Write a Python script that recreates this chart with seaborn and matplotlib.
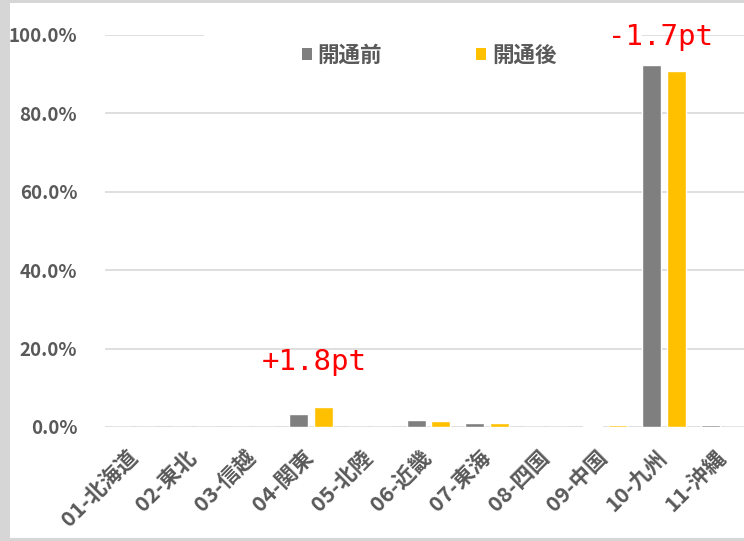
import matplotlib
matplotlib.use("Agg")
import matplotlib.pyplot as plt
from matplotlib.patches import Patch, Rectangle
from matplotlib.ticker import PercentFormatter
from matplotlib.transforms import ScaledTranslation
import pandas as pd
import seaborn as sns

# data (share, %)
regions = ["01-北海道", "02-東北", "03-信越", "04-関東", "05-北陸", "06-近畿",
           "07-東海", "08-四国", "09-中国", "10-九州", "11-沖縄"]
before = [0.0, 0.0, 0.0, 3.4, 0.0, 1.9, 0.95, 0.0, 0.35, 92.4, 0.4]
after = [0.0, 0.0, 0.0, 5.2, 0.0, 1.5, 0.9, 0.0, 0.6, 90.7, 0.0]
series_names = ["開通前", "開通後"]
colors = ["#7F7F7F", "#FFC000"]
notes = [("+1.8pt", 3.05, 16.6), ("-1.7pt", 8.94, 99.5)]

df = pd.DataFrame({
    "region": regions * 2,
    "series": [series_names[0]] * len(regions) + [series_names[1]] * len(regions),
    "share": [v / 100 for v in before + after],
})

sns.set_style("white")
plt.rcParams["font.family"] = ["Noto Sans CJK JP", "DejaVu Sans"]
text_gray = "#595959"

fig = plt.figure(figsize=(7.44, 5.41), dpi=100)
ax = fig.add_axes([105 / 744, 114 / 541, 647 / 744, 392 / 541])

sns.barplot(data=df, x="region", y="share", hue="series", order=regions,
            hue_order=series_names, palette=colors, saturation=1,
            width=0.85, gap=0.24, legend=False, ax=ax, zorder=2)

ax.set_ylim(0, 1.0)
ax.set_xlim(-0.5, len(regions) - 0.5)
ax.set_yticks([0, 0.2, 0.4, 0.6, 0.8, 1.0])
ax.yaxis.set_major_formatter(PercentFormatter(1.0, decimals=1))
ax.yaxis.grid(True, color="#D9D9D9", linewidth=1.2)
ax.set_axisbelow(True)
for s in ax.spines.values():
    s.set_visible(False)
ax.set_xlabel("")
ax.set_ylabel("")
ax.tick_params(axis="y", length=0, pad=20, labelsize=13.5, labelcolor=text_gray)
ax.tick_params(axis="x", length=0, pad=14, labelsize=15.5, labelcolor=text_gray)
for lab in ax.get_yticklabels():
    lab.set_fontweight("bold")
shift = ScaledTranslation(-8 / 100, 0, fig.dpi_scale_trans)
for lab in ax.get_xticklabels():
    lab.set_rotation(45)
    lab.set_ha("right")
    lab.set_va("top")
    lab.set_rotation_mode("anchor")
    lab.set_fontweight("bold")
    lab.set_transform(lab.get_transform() + shift)

# white box behind legend hides part of the 100% gridline
ax.add_patch(Rectangle((1.18, 0.97), 7.45, 0.06, facecolor="white",
                       edgecolor="none", clip_on=False, zorder=1))

handles = [Patch(facecolor=c, edgecolor="none") for c in colors]
leg = ax.legend(handles, series_names, loc="center",
                bbox_to_anchor=(429 / 744, 1 - 55 / 541),
                bbox_transform=fig.transFigure, ncol=2, frameon=False,
                handlelength=0.47, handleheight=0.47, handletextpad=0.25,
                columnspacing=4.4, fontsize=15.5)
for t in leg.get_texts():
    t.set_color(text_gray)
    t.set_fontweight("bold")

for label, xpos, ypos in notes:
    ax.text(xpos, ypos / 100, label, color="red", fontsize=21, ha="center", va="center",
            family="DejaVu Sans Mono", clip_on=False, zorder=6)

# chart frame remnants
fig.add_artist(Rectangle((0, 0), 10 / 744, 1, transform=fig.transFigure,
                         facecolor="#D6D6D6", edgecolor="none"))
fig.add_artist(Rectangle((0, 1 - 3 / 541), 1, 3 / 541, transform=fig.transFigure,
                         facecolor="#D6D6D6", edgecolor="none"))
fig.add_artist(Rectangle((0, 0), 1, 3 / 541, transform=fig.transFigure,
                         facecolor="#D6D6D6", edgecolor="none"))

fig.savefig("out.png", dpi=100)
